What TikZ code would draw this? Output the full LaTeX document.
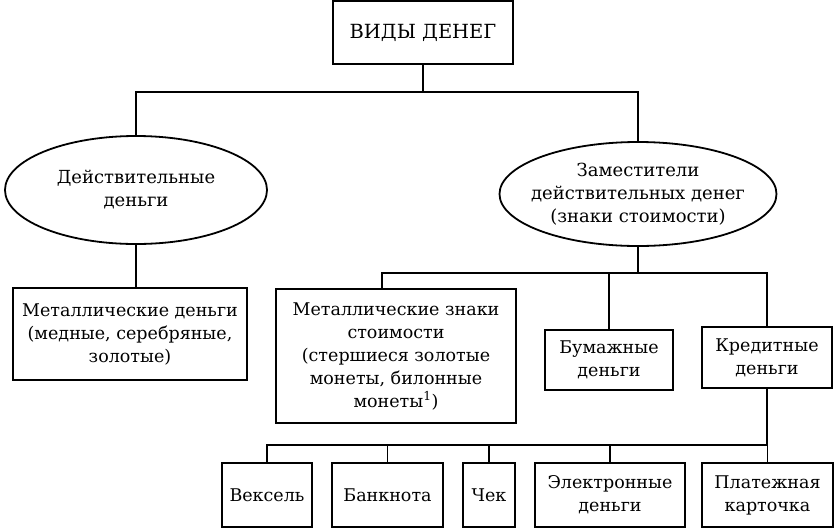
\documentclass[tikz,border=0pt]{standalone}
\usepackage{fontspec}
\setmainfont{DejaVu Serif}
\usepackage{tikz}
\usetikzlibrary{positioning, shapes.geometric}

\begin{document}
\begin{tikzpicture}[x=1pt, y=-1pt, line width=1.8pt,
  font=\fontsize{17.5pt}{23pt}\selectfont,
  box/.style={draw, rectangle, align=center, inner sep=2pt},
  oval/.style={draw, ellipse, align=center, inner sep=-12pt,
               font=\fontsize{18pt}{23pt}\selectfont}]
  \useasboundingbox (0,0) rectangle (836,528);
  % top
  \node[box, minimum width=180pt, minimum height=63pt,
        font=\fontsize{19.5pt}{23pt}\selectfont] (kinds) at (423,32.5) {ВИДЫ ДЕНЕГ};
  % second level
  \node[oval, minimum width=262pt, minimum height=108pt] (real) at (136,190)
        {Действительные\\деньги};
  \node[oval, minimum width=277pt, minimum height=104pt] (subst) at (638,194)
        {Заместители\\действительных денег\\(знаки стоимости)};
  % third level
  \node[box, minimum width=234pt, minimum height=92pt] (metal) at (130,334)
        {Металлические деньги\\(медные, серебряные,\\золотые)};
  \node[box, minimum width=240pt, minimum height=134pt] (signs) at (396,356)
        {Металлические знаки\\стоимости\\(стершиеся золотые\\монеты, билонные\\монеты\textsuperscript{1})};
  \node[box, minimum width=128pt, minimum height=60pt] (paper) at (609,360)
        {Бумажные\\деньги};
  \node[box, minimum width=130pt, minimum height=61pt] (credit) at (767,357.5)
        {Кредитные\\деньги};
  % bottom row
  \node[box, minimum width=90pt, minimum height=64pt] (bill) at (267,495) {Вексель};
  \node[box, minimum width=111pt, minimum height=64pt] (note) at (387.5,495) {Банкнота};
  \node[box, minimum width=52pt, minimum height=64pt] (cheque) at (489,495) {Чек};
  \node[box, minimum width=150pt, minimum height=64pt] (emoney) at (610,495)
        {Электронные\\деньги};
  \node[box, minimum width=131pt, minimum height=64pt] (card) at (767.5,495)
        {Платежная\\карточка};
  % connectors
  \coordinate (h1) at (0,92);
  \coordinate (h2) at (0,273);
  \coordinate (h3) at (0,445);
  \draw (kinds.south) -- (kinds.south |- h1);
  \draw (real.north) |- (subst.north |- h1) -- (subst.north);
  \draw (real.south) -- (real.south |- metal.north);
  \draw (subst.south) -- (subst.south |- h2);
  \draw ([xshift=-14pt]signs.north) |- (credit.north |- h2) -- (credit.north);
  \draw (paper.north) -- (paper.north |- h2);
  \draw (credit.south) -- (credit.south |- h3);
  \draw (bill.north) |- (card.north |- h3) -- (card.north);
  \foreach \n in {note, cheque, emoney}
    \draw (\n.north) -- (\n.north |- h3);
\end{tikzpicture}
\end{document}
